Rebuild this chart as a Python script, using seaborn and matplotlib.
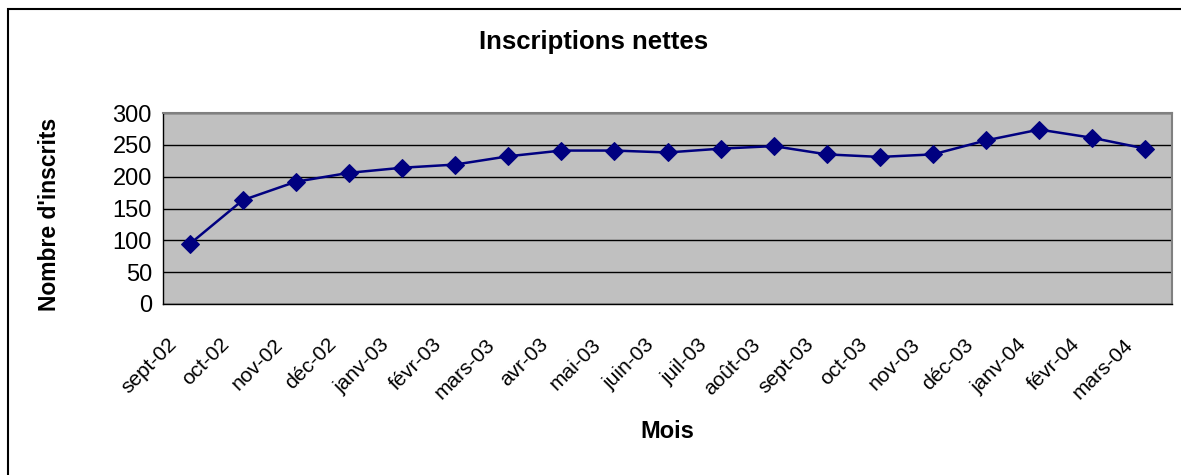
import matplotlib
matplotlib.use("Agg")
import matplotlib.pyplot as plt
import matplotlib.patches as patches
import matplotlib.transforms as mtransforms
import pandas as pd
import seaborn as sns

# monthly net enrolments
mois = ["sept-02", "oct-02", "nov-02", "déc-02", "janv-03", "févr-03", "mars-03",
        "avr-03", "mai-03", "juin-03", "juil-03", "août-03", "sept-03", "oct-03",
        "nov-03", "déc-03", "janv-04", "févr-04", "mars-04"]
inscrits = [94, 163, 192, 206, 214, 219, 232, 241, 241, 238, 244, 248, 235, 231,
            235, 257, 274, 261, 244]

df = pd.DataFrame({"Mois": mois, "Inscrits": inscrits})

sns.set_style("white")
plt.rcParams["font.family"] = ["Liberation Sans", "DejaVu Sans"]
plt.rcParams["text.color"] = "black"
plt.rcParams["xtick.color"] = "black"
plt.rcParams["ytick.color"] = "black"

fig = plt.figure(figsize=(11.81, 4.75), dpi=100)
ax = fig.add_axes([163 / 1181, 1 - 304 / 475, (1172 - 163) / 1181, (304 - 113) / 475])
ax.set_facecolor("#C0C0C0")

sns.lineplot(data=df, x="Mois", y="Inscrits", sort=False, ax=ax, color="#000080",
             marker="D", markersize=9, markeredgecolor="#000080", linewidth=1.8)

ax.set_xlim(-0.5, len(mois) - 0.5)
ax.set_ylim(0, 300)
ax.set_yticks(range(0, 301, 50))
ax.yaxis.grid(True, color="black", linewidth=1)
ax.set_axisbelow(True)

# ticks between categories like the original spreadsheet chart
ax.set_xticks(range(len(mois)))
ax.set_xticks([i - 0.5 for i in range(len(mois) + 1)], minor=True)
ax.tick_params(axis="x", which="major", length=0, pad=27)
ax.tick_params(axis="x", which="minor", length=5, color="black", width=1, direction="out")
ax.tick_params(axis="y", length=5, color="black", width=1, direction="out", labelsize=17, pad=3)
ax.set_xticklabels(mois, rotation=45, ha="right", va="center", rotation_mode="anchor", fontsize=15)
shift = mtransforms.ScaledTranslation(-16 / 100, 0, fig.dpi_scale_trans)
for lab in ax.get_xticklabels():
    lab.set_transform(lab.get_transform() + shift)

for s in ["left", "bottom"]:
    ax.spines[s].set_color("black")
    ax.spines[s].set_linewidth(1)
for s in ["top", "right"]:
    ax.spines[s].set_color("#808080")
    ax.spines[s].set_linewidth(1.5)

ax.set_xlabel("")
ax.set_ylabel("")
fig.text(594 / 1181, 1 - 42 / 475, "Inscriptions nettes", ha="center", va="center",
         fontsize=18.5, fontweight="bold")
fig.text(50 / 1181, 1 - 214 / 475, "Nombre d'inscrits", ha="center", va="center",
         rotation=90, fontsize=16.5, fontweight="bold")
fig.text(667 / 1181, 1 - 432 / 475, "Mois", ha="center", va="center",
         fontsize=17, fontweight="bold")

# outer chart border
fig.patches.append(patches.Rectangle((8 / 1181, -0.1), 1.2, 1 - 9 / 475 + 0.1,
                                     transform=fig.transFigure, fill=False,
                                     edgecolor="black", linewidth=1.5))

fig.savefig("out.png", dpi=100)
